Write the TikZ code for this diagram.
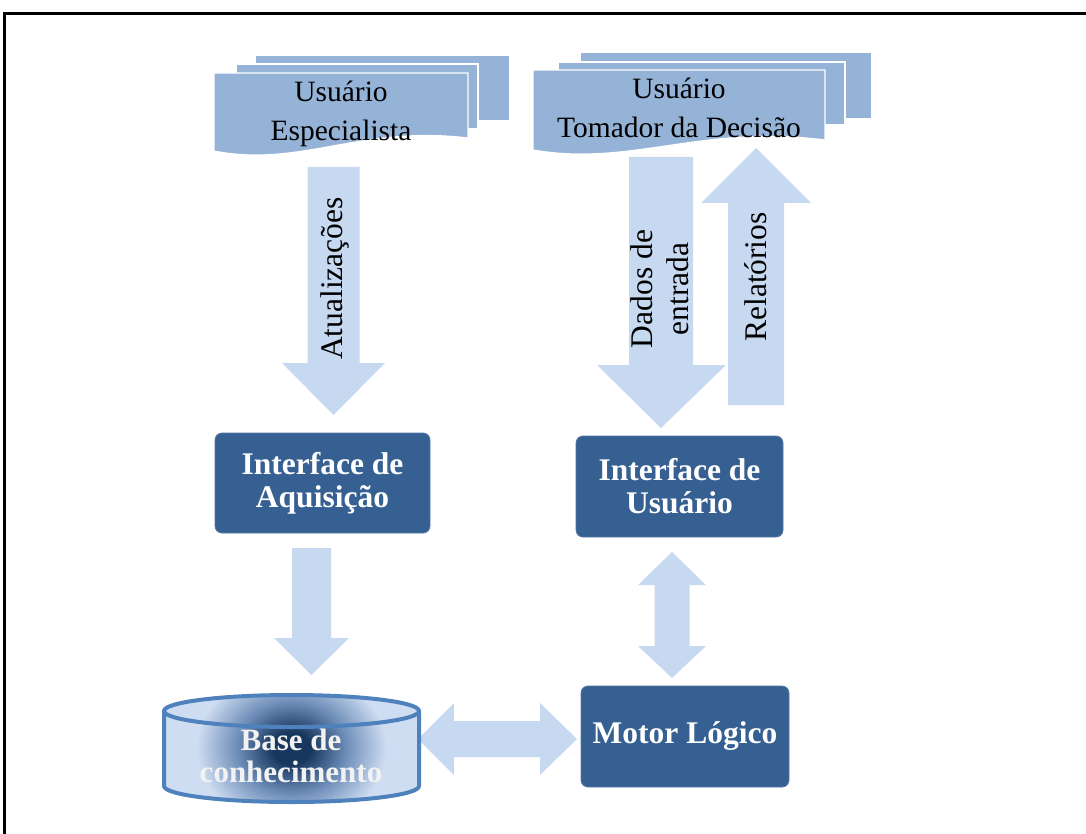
\documentclass[tikz,border=0pt]{standalone}
\usepackage{fontspec}
\setmainfont{Liberation Serif}
\definecolor{docblue}{HTML}{95B3D7}
\definecolor{arrowblue}{HTML}{C6D9F0}
\definecolor{boxblue}{HTML}{366092}
\definecolor{cylline}{HTML}{4F81BD}
\definecolor{cyldark}{HTML}{17375E}
\definecolor{cylmid}{HTML}{6A8AB6}
\definecolor{cyllight}{HTML}{CFDDF2}
\definecolor{kbtext}{HTML}{F2F2F2}
\pgfdeclareradialshading{cylshade}{\pgfpoint{0bp}{0bp}}{color(0bp)=(cyldark); color(5bp)=(cyldark); color(14bp)=(cylmid); color(25bp)=(cyllight); color(50bp)=(cyllight)}
\newcommand{\mycylpath}{(164,711) -- (164,786) .. controls (164,794.8) and (221.1,802) .. (291.5,802) .. controls (361.9,802) and (419,794.8) .. (419,786) -- (419,711) .. controls (419,702.2) and (361.9,695) .. (291.5,695) .. controls (221.1,695) and (164,702.2) .. (164,711) -- cycle}
\begin{document}
\begin{tikzpicture}[x=1pt,y=-1pt,
  doc/.style={fill=docblue, draw=white, line width=1.2pt},
  barrow/.style={fill=arrowblue, draw=none},
  box/.style={fill=boxblue, draw=boxblue!85!white, line width=0.8pt, rounded corners=7pt, text=white, font=\fontsize{31.5}{33}\selectfont\bfseries, align=center, inner sep=0pt},
  doctext/.style={font=\fontsize{29.5}{39}\selectfont, align=center, text=black, inner sep=0pt},
  arrtext/.style={font=\fontsize{31.5}{36}\selectfont, align=center, rotate=90, inner sep=0pt, text=black}]
\useasboundingbox (0,0) rectangle (1086,834);
% frame
\draw[line width=2.2pt] (4.5,834) -- (4.5,13.5) -- (1086,13.5);

% document stacks
\draw[doc] (255,55) rectangle (510,121);
\draw[doc] (236,64) rectangle (478,129);
\draw[doc] (214,73) -- (468,73) -- (468,138) .. controls (360,125) and (300,168) .. (214,151) -- cycle;
\node[doctext] (ue) at (341,114) {Usuário\\Especialista};

\draw[doc] (580,52) rectangle (872,119);
\draw[doc] (558,62) rectangle (845,125);
\draw[doc] (533,70) -- (825,70) -- (825,140) .. controls (701,124) and (632,167) .. (533,150) -- cycle;
\node[doctext] (ut) at (679,108) {Usuário\\Tomador da Decisão};

% boxes
\node[box, minimum width=215pt, minimum height=100pt] (ia) at (322.5,483) {Interface de\\Aquisição};
\node[box, minimum width=207pt, minimum height=101pt] (iu) at (679.5,486.5) {Interface de\\Usuário};
\node[box, minimum width=208pt, minimum height=101pt] (ml) at (685,736.5) {Motor Lógico};

% block arrows
\fill[barrow] (307.5,167) -- (359.5,167) -- (359.5,363) -- (385,363) -- (333.5,415) -- (282,363) -- (307.5,363) -- cycle;
\node[arrtext] (at) at (334.5,278.5) {Atualizações};

\fill[barrow] (629,157) -- (693,157) -- (693,365) -- (726,365) -- (661,428) -- (597,365) -- (629,365) -- cycle;
\node[arrtext] (de) at (660,289) {Dados de\\entrada};

\fill[barrow] (728,405) -- (784,405) -- (784,203) -- (811,203) -- (756,148) -- (701,203) -- (728,203) -- cycle;
\node[arrtext] (re) at (756,277) {Relatórios};

\fill[barrow] (292,548) -- (331,548) -- (331,638) -- (349,638) -- (311.5,675) -- (274,638) -- (292,638) -- cycle;

\fill[barrow] (672,552) -- (706,585) -- (689.5,585) -- (689.5,646) -- (706,646) -- (672,678) -- (638,646) -- (654.5,646) -- (654.5,585) -- (638,585) -- cycle;

\fill[barrow] (418,739) -- (454,703) -- (454,721) -- (540,721) -- (540,703) -- (577,739) -- (540,775) -- (540,757) -- (454,757) -- (454,775) -- cycle;

% cylinder
\fill[cyllight] \mycylpath;
\begin{scope}
  \clip \mycylpath;
  \shade[shading=cylshade] (291.5,748) ellipse [x radius=95, y radius=80];
\end{scope}
\draw[cylline, line width=4pt, line join=round] \mycylpath;
\draw[cylline, line width=4pt] (164,711) .. controls (164,719.8) and (221.1,727) .. (291.5,727) .. controls (361.9,727) and (419,719.8) .. (419,711);
\node[font=\fontsize{31}{32}\selectfont\bfseries, text=kbtext, align=center, inner sep=0pt] (kb) at (291,756) {Base de\\conhecimento};
\end{tikzpicture}
\end{document}
